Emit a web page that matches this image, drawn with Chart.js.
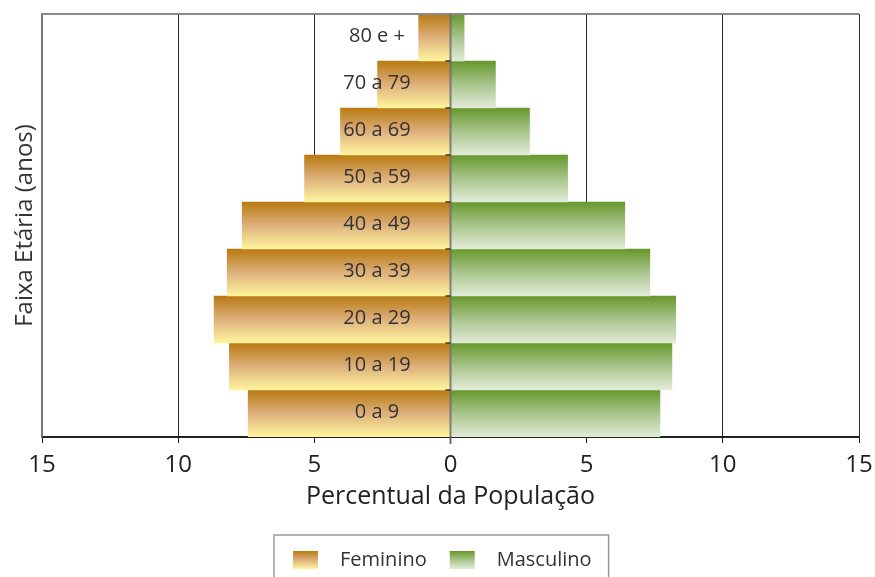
<!DOCTYPE html>
<html><head><meta charset="utf-8">
<script src="https://cdn.jsdelivr.net/npm/chart.js@4/dist/chart.umd.min.js"></script>
<style>html,body{margin:0;padding:0;background:#fff}#wrap{width:875px;height:577px;position:relative}</style>
</head><body><div id="wrap"><canvas id="c" width="875" height="577"></canvas></div>
<script>
const ageGroups = ['0 a 9','10 a 19','20 a 29','30 a 39','40 a 49','50 a 59','60 a 69','70 a 79','80 e +'];
const feminino = [7.43, 8.12, 8.68, 8.2, 7.65, 5.36, 4.04, 2.68, 1.17];
const masculino = [7.69, 8.13, 8.27, 7.32, 6.4, 4.3, 2.9, 1.65, 0.5];
const xTicks = [-15, -10, -5, 0, 5, 10, 15];
const seriesNames = ['Feminino', 'Masculino'];

const FONT = "'Open Sans', sans-serif";
const femStops = [[0,'#B97A12'],[0.5,'#DDB07C'],[1,'#FFF59D']];
const mascStops = [[0,'#66982C'],[0.5,'#A9C58C'],[1,'#E2EBD8']];
const LABEL_X_VALUE = -2.7;

function barGradient(stops, fallback) {
  return (ctx) => {
    const chart = ctx.chart;
    const y = chart.scales && chart.scales.y;
    if (ctx.type !== 'data' || !y || !chart.chartArea) return fallback;
    const half = y.height / ageGroups.length / 2;
    const c = y.getPixelForValue(ctx.dataIndex);
    const g = chart.ctx.createLinearGradient(0, c - half, 0, c + half);
    stops.forEach(s => g.addColorStop(s[0], s[1]));
    return g;
  };
}

const decor = {
  id: 'decor',
  afterDatasetsDraw(chart) {
    const {ctx, chartArea: a, scales: {x, y}} = chart;
    ctx.save();
    ctx.strokeStyle = '#8a8a8a'; ctx.lineWidth = 2;
    ctx.beginPath(); ctx.moveTo(a.left, a.top); ctx.lineTo(a.right, a.top); ctx.stroke();
    const x0 = x.getPixelForValue(0);
    ctx.strokeStyle = 'rgba(100,100,100,0.8)'; ctx.lineWidth = 2;
    ctx.beginPath(); ctx.moveTo(x0, a.top); ctx.lineTo(x0, a.bottom + 7); ctx.stroke();
    const step = y.height / ageGroups.length;
    ctx.strokeStyle = '#333'; ctx.lineWidth = 1.5;
    for (let i = 0; i < ageGroups.length - 1; i++) {
      const yy = y.getPixelForValue(i) - step / 2;
      ctx.beginPath(); ctx.moveTo(x0 - 5, yy); ctx.lineTo(x0, yy); ctx.stroke();
    }
    ctx.fillStyle = '#333';
    ctx.font = '20px ' + FONT;
    ctx.textAlign = 'center'; ctx.textBaseline = 'middle';
    const lx = x.getPixelForValue(LABEL_X_VALUE);
    ageGroups.forEach((lab, i) => ctx.fillText(lab, lx, y.getPixelForValue(i) - 1));
    ctx.restore();
  },
  afterDraw(chart) {
    const ctx = chart.ctx;
    ctx.save();
    ctx.font = '20px ' + FONT;
    ctx.textBaseline = 'middle'; ctx.textAlign = 'left';
    const cy = 560;
    let xx = 293;
    const boxLeft = 274;
    [femStops, mascStops].forEach((stops, i) => {
      const g = ctx.createLinearGradient(0, cy - 9, 0, cy + 9);
      stops.forEach(s => g.addColorStop(s[0], s[1]));
      ctx.fillStyle = g;
      ctx.fillRect(xx, cy - 9, 25, 18);
      ctx.fillStyle = '#333';
      ctx.fillText(seriesNames[i], xx + 47, cy);
      xx = xx + 47 + ctx.measureText(seriesNames[i]).width + (i === 0 ? 23 : 0);
    });
    const boxRight = xx + 17;
    ctx.strokeStyle = '#9a9a9a'; ctx.lineWidth = 1.5;
    ctx.beginPath();
    ctx.moveTo(boxLeft, chart.height + 5); ctx.lineTo(boxLeft, 535); ctx.lineTo(boxRight, 535); ctx.lineTo(boxRight, chart.height + 5);
    ctx.stroke();
    ctx.restore();
  }
};

new Chart(document.getElementById('c'), {
  type: 'bar',
  data: {
    labels: ageGroups,
    datasets: [
      { label: seriesNames[0], data: feminino.map(v => -v), backgroundColor: barGradient(femStops, '#DDB07C'), borderWidth: 0 },
      { label: seriesNames[1], data: masculino, backgroundColor: barGradient(mascStops, '#A9C58C'), borderWidth: 0 }
    ]
  },
  options: {
    indexAxis: 'y',
    responsive: false,
    animation: false,
    barPercentage: 1,
    categoryPercentage: 1,
    layout: { padding: { left: 0, right: 16, top: 14, bottom: 50 } },
    scales: {
      x: {
        type: 'linear', min: -15, max: 15, stacked: true,
        afterBuildTicks: s => { s.ticks = xTicks.map(v => ({ value: v })); },
        afterFit: s => { s.height = 90; s.paddingLeft = 0; s.paddingRight = 0; },
        ticks: { callback: v => Math.abs(v), color: '#222', font: { family: FONT, size: 24 }, padding: 8, maxRotation: 0 },
        grid: {
          color: c => (c.tick && c.tick.value === 0) ? 'rgba(0,0,0,0)' : (c.tick && c.tick.value === -15 ? '#777' : '#2a2a2a'),
          lineWidth: 1, tickLength: 6, tickColor: '#222'
        },
        border: { display: true, color: '#222', width: 2 },
        title: { display: true, text: 'Percentual da População', color: '#222', font: { family: FONT, size: 25 }, padding: { top: 2, bottom: 15 } }
      },
      y: {
        type: 'category', reverse: true, stacked: true,
        afterFit: s => { s.width = 42; },
        ticks: { display: false },
        grid: { display: false },
        border: { display: true, color: '#777', width: 1.5 },
        title: { display: true, text: 'Faixa Etária (anos)', color: '#333', font: { family: FONT, size: 24 }, padding: { top: 11, bottom: 0 } }
      }
    },
    plugins: {
      tooltip: { enabled: false },
      legend: { display: false }
    }
  },
  plugins: [decor]
});
</script></body></html>
